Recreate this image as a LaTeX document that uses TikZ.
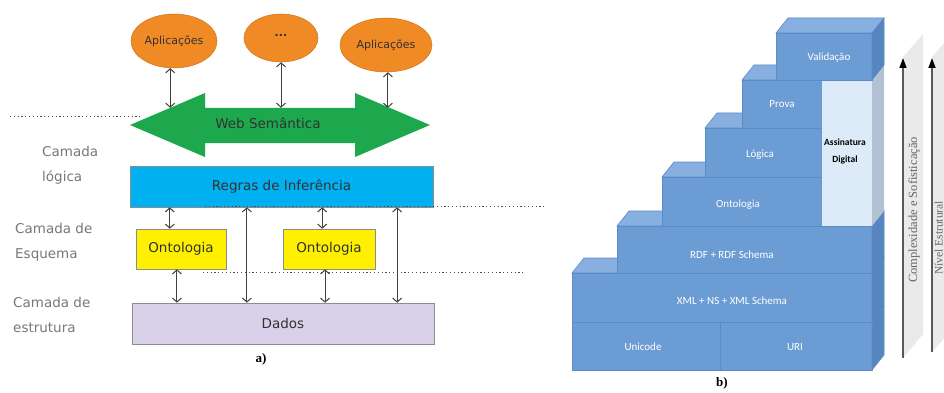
\documentclass[tikz,border=0pt]{standalone}
\usepackage{fontspec}
\setmainfont{DejaVu Sans}
\newfontfamily\calib{Carlito}
\newfontfamily\tms{Liberation Serif}
\usetikzlibrary{shapes.geometric,arrows.meta,calc}

\definecolor{appor}{RGB}{240,138,36}
\definecolor{webgr}{RGB}{30,168,78}
\definecolor{rulecy}{RGB}{0,176,240}
\definecolor{ontye}{RGB}{255,240,0}
\definecolor{datali}{RGB}{217,208,234}
\definecolor{labgr}{RGB}{120,120,120}
\definecolor{inktx}{RGB}{50,50,50}
\definecolor{blkfront}{RGB}{108,156,212}
\definecolor{blktop}{RGB}{135,176,224}
\definecolor{blkside}{RGB}{86,133,192}
\definecolor{blkedge}{RGB}{92,140,198}
\definecolor{sigfront}{RGB}{221,235,248}
\definecolor{sigside}{RGB}{178,194,212}
\definecolor{panelgr}{RGB}{234,234,234}

\tikzset{
  app/.style={ellipse, fill=appor, draw=appor!85!black, line width=0.5pt, inner sep=0pt,
    text=inktx, font=\fontsize{11}{13}\selectfont},
  layerbox/.style={rectangle, draw=black!45, line width=0.6pt, inner sep=0pt, text=inktx,
    font=\fontsize{13.5}{16}\selectfont},
  dbl/.style={{Straight Barb[length=4pt,width=9pt]}-{Straight Barb[length=4pt,width=9pt]},
    draw=black!75, line width=1pt},
  dotline/.style={draw=black!70, line width=1pt, dash pattern=on 1.2pt off 2.6pt},
  layerlbl/.style={align=left, text=labgr, inner sep=0pt,
    font=\fontsize{13.5}{25}\selectfont},
  front/.style={fill=blkfront, draw=blkedge, line width=0.6pt},
  topface/.style={fill=blktop, draw=blkedge, line width=0.6pt},
  sideface/.style={fill=blkside, draw=blkedge, line width=0.6pt},
  blklbl/.style={text=white, font=\calib\fontsize{11}{13}\selectfont},
  upar/.style={-{Triangle[length=10pt,width=7pt,color=black]}, draw=black!65, line width=1.6pt},
  sidelbl/.style={rotate=90, anchor=base, text=black!60, font=\tms\fontsize{12.5}{14}\selectfont},
  caption/.style={font=\tms\bfseries\fontsize{13}{15}\selectfont}
}

\begin{document}
\begin{tikzpicture}[x=1pt,y=-1pt]
\fill[white] (0,0) rectangle (944,393);
\useasboundingbox (0,0) rectangle (944,393);
\clip (0,0) rectangle (944,393);

% ---------- a) layered architecture ----------
% applications
\node[app, minimum width=86pt, minimum height=54pt] (e1) at (174,41) {Aplicações};
\node[app, minimum width=74pt, minimum height=48pt] (e2) at (281,38) {\raisebox{5pt}{\textbf{...}}};
\node[app, minimum width=92pt, minimum height=54pt] (e3) at (386,45) {Aplicações};

% semantic web double arrow
\fill[webgr] (130,125) -- (205,93) -- (205,108) -- (355,108) -- (355,93) -- (430,125)
  -- (355,157) -- (355,143) -- (205,143) -- (205,157) -- cycle;
\node[inner sep=0pt, minimum width=150pt, minimum height=30pt, text=inktx,
  font=\fontsize{13.5}{16}\selectfont] (web) at (268,123) {Web Semântica};

% layers
\node[layerbox, fill=rulecy, minimum width=303pt, minimum height=41pt] (regras) at (281.5,186.5) {Regras de Inferência};
\node[layerbox, fill=ontye, minimum width=90pt, minimum height=40pt] (ont1) at (181,249) {Ontologia};
\node[layerbox, fill=ontye, minimum width=92pt, minimum height=40pt] (ont2) at (329,249) {Ontologia};
\node[layerbox, fill=datali, minimum width=302pt, minimum height=41pt] (dados) at (283,323.5) {Dados};

% layer names
\node[layerlbl, anchor=west] (lgc) at (42,165) {Camada\\lógica};
\node[layerlbl, anchor=west] (esq) at (15,242) {Camada de\\Esquema};
\node[layerlbl, anchor=west] (est) at (13,315) {Camada de\\estrutura};

% layer boundaries
\draw[dotline] (10,117) -- (140,117);
\draw[dotline] (205,206) -- (545,206);
\draw[dotline] (203,272) -- (525,272);

% links between applications and the semantic web
\draw[dbl] (e1.-98) -- (e1.-98 |- web.north);
\draw[dbl] (e2.south) -- (e2.south |- web.north);
\draw[dbl] (e3.-86) -- (e3.-86 |- web.north);

% links between layers
\coordinate (r1) at ($(regras.south west)!0.132!(regras.south east)$);
\coordinate (r2) at ($(regras.south west)!0.386!(regras.south east)$);
\coordinate (r3) at ($(regras.south west)!0.634!(regras.south east)$);
\coordinate (r4) at ($(regras.south west)!0.881!(regras.south east)$);
\coordinate (o1) at ($(ont1.south west)!0.455!(ont1.south east)$);
\coordinate (o2) at ($(ont2.south west)!0.457!(ont2.south east)$);
\draw[dbl] (r1) -- (r1 |- ont1.north);
\draw[dbl] (r3) -- (r3 |- ont2.north);
\draw[dbl] (r2) -- (r2 |- dados.north);
\draw[dbl] (r4) -- (r4 |- dados.north);
\draw[dbl] (o1) -- (o1 |- dados.north);
\draw[dbl] (o2) -- (o2 |- dados.north);

\node[caption] (capa) at (261,359) {a)};

% ---------- b) semantic web stack ----------
% Unicode / URI
\draw[front] (572,322) rectangle (720,370);
\draw[front] (720,322) rectangle (872,370);
\draw[sideface] (872,322) -- (884,307) -- (884,355) -- (872,370) -- cycle;
% XML + NS + XML Schema
\draw[topface] (572,273) -- (872,273) -- (884,258) -- (584,258) -- cycle;
\draw[front] (572,273) rectangle (872,322);
\draw[sideface] (872,273) -- (884,258) -- (884,307) -- (872,322) -- cycle;
% RDF + RDF Schema
\draw[topface] (617,226) -- (872,226) -- (884,211) -- (629,211) -- cycle;
\draw[front] (617,226) rectangle (872,273);
\draw[sideface] (872,226) -- (884,211) -- (884,258) -- (872,273) -- cycle;
% Ontologia
\draw[topface] (662,177) -- (822,177) -- (834,162) -- (674,162) -- cycle;
\draw[front] (662,177) rectangle (822,226);
% Logica
\draw[topface] (705,128) -- (822,128) -- (834,113) -- (717,113) -- cycle;
\draw[front] (705,128) rectangle (822,177);
% Prova
\draw[topface] (742,80) -- (822,80) -- (834,65) -- (754,65) -- cycle;
\draw[front] (742,80) rectangle (822,128);
% digital signature column
\fill[sigside] (872,80) -- (884,65) -- (884,211) -- (872,226) -- cycle;
\fill[sigfront] (822,80) rectangle (872,226);
% Validacao
\draw[topface] (776,33) -- (872,33) -- (884,18) -- (788,18) -- cycle;
\draw[front] (776,33) rectangle (872,80);
\draw[sideface] (872,33) -- (884,18) -- (884,65) -- (872,80) -- cycle;

\node[blklbl] (t1) at (829,58) {Validação};
\node[blklbl] (t2) at (782,104) {Prova};
\node[blklbl] (t3) at (760,155) {Lógica};
\node[blklbl] (t4) at (738,205) {Ontologia};
\node[blklbl] (t5) at (732,255) {RDF + RDF Schema};
\node[blklbl] (t6) at (732,301) {XML + NS + XML Schema};
\node[blklbl] (t7) at (643,347) {Unicode};
\node[blklbl] (t8) at (795,347) {URI};
\node[align=center, text=black, font=\calib\bfseries\fontsize{9.5}{17}\selectfont] (t9) at (845,151) {Assinatura\\Digital};

% growth arrows
\fill[panelgr] (903,57) -- (923,34) -- (923,334) -- (903,358) -- cycle;
\fill[panelgr] (932,57) -- (952,34) -- (952,330) -- (932,352) -- cycle;
\coordinate (c1b) at (903,358);
\coordinate (c1t) at (903,58);
\coordinate (c2b) at (932,352);
\coordinate (c2t) at (932,58);
\draw[upar] (c1b) -- (c1t);
\draw[upar] (c2b) -- (c2t);
\node[sidelbl] (s1) at (917,210) {Complexidade e Sofisticação};
\node[sidelbl, font=\tms\fontsize{11.5}{13}\selectfont] (s2) at (942.5,238) {Nível Estrutural};

\node[caption] (capb) at (722,383) {b)};
\end{tikzpicture}
\end{document}
